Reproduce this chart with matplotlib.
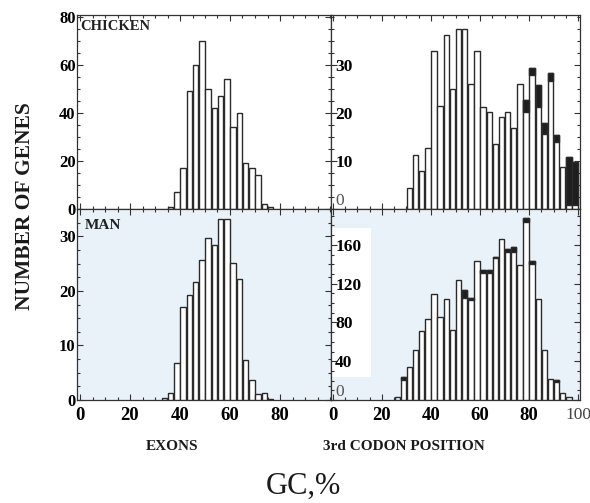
import numpy as np
import matplotlib
matplotlib.use("Agg")
import matplotlib.pyplot as plt
from matplotlib.ticker import MultipleLocator
from matplotlib.patches import Rectangle

plt.rcParams['font.family'] = ['Liberation Serif', 'DejaVu Serif']

BIN = 2.5

# Chicken, exons (bins start at 35, width 2.5)
chicken_exon_start = 35.0
chicken_exon = [1, 7, 17, 49, 60, 70, 50, 42, 47, 54, 34, 40, 19, 17, 14, 2, 1]

# Chicken, 3rd codon position (bins start at 30)
chicken_codon_start = 30.0
chicken_codon = [4.4, 11.2, 7.9, 12.7, 33, 21.5, 36.3, 25, 37.4, 37.4, 26, 33,
                 21.3, 20.3, 13.6, 19.2, 20.3, 16.9, 26, 22.6, 29.4, 25.8, 18,
                 28.3, 15.4, 8.8, 10.9, 9.8]
chicken_codon_dark = [0, 0, 0, 0, 0, 0, 0, 0, 0, 0, 0, 0,
                      0, 0, 0, 0, 0, 0, 0, 2.4, 1.5, 4.6, 2.3,
                      1.6, 1.4, 0, 10.0, 9.0]

# Man, exons (bins start at 32.5)
man_exon_start = 32.5
man_exon = [0.4, 1.3, 6.8, 17, 19.3, 21.7, 25.7, 29.6, 28.4, 33.1, 33.1,
            25.1, 22.2, 7.4, 3.7, 1.1, 1.2, 0.2]

# Man, 3rd codon position (bins start at 25)
man_codon_start = 25.0
man_codon = [2.8, 24, 33.6, 52, 71.6, 84, 109, 85.5, 103.8, 72.7, 123.9, 113,
             105.5, 143.6, 134, 134, 148, 166, 155.7, 157.4, 139, 187.5, 143.6,
             104.6, 52, 21.3, 20.5, 6.9, 2.6]
man_codon_dark = [0, 3.5, 0, 0, 0, 0, 0, 0, 0, 0, 0, 7.6,
                  2.8, 0, 3, 3, 2, 0, 3.5, 5, 0, 3.5, 3.5,
                  0, 0, 0, 2, 0, 0]

exon_xticks = [0, 20, 40, 60, 80]
codon_xticks = [0, 20, 40, 60, 80, 100]

W, H = 590, 503
fig = plt.figure(figsize=(W / 100, H / 100), dpi=100)
fig.patch.set_facecolor('white')

def rect(x0, y0, x1, y1):
    return [x0 / W, 1 - y1 / H, (x1 - x0) / W, (y1 - y0) / H]

ax_ce = fig.add_axes(rect(77, 15, 331, 209))
ax_cc = fig.add_axes(rect(331, 15, 580, 209))
ax_me = fig.add_axes(rect(77, 209, 331, 400))
ax_mc = fig.add_axes(rect(331, 209, 580, 400))

blue = '#e9f1f9'
ax_me.set_facecolor(blue)
ax_mc.set_facecolor(blue)

edge = '#2a2a2a'
bw = BIN * 0.88

def draw(ax, start, vals, dark=None):
    lefts = start + BIN * np.arange(len(vals)) + (BIN - bw) / 2
    vals = np.asarray(vals, float)
    ax.bar(lefts, vals, width=bw, align='edge', facecolor='white',
           edgecolor=edge, linewidth=1.0, zorder=3)
    if dark is not None:
        dark = np.asarray(dark, float)
        m = dark > 0
        ax.bar(lefts[m], dark[m], bottom=vals[m] - dark[m], width=bw,
               align='edge', facecolor='#1e1e1e', edgecolor=edge,
               linewidth=1.0, zorder=4)

draw(ax_ce, chicken_exon_start, chicken_exon)
draw(ax_cc, chicken_codon_start, chicken_codon, chicken_codon_dark)
draw(ax_me, man_exon_start, man_exon)
draw(ax_mc, man_codon_start, man_codon, man_codon_dark)

ax_ce.set_xlim(-1.2, 100.4)
ax_me.set_xlim(-1.2, 100.4)
ax_cc.set_xlim(-0.8, 100.8)
ax_mc.set_xlim(-0.8, 100.8)
ax_ce.set_ylim(0, 80.8)
ax_cc.set_ylim(0, 40.4)
ax_me.set_ylim(0, 35.0)
ax_mc.set_ylim(0, 197)

tick_font = dict(family='Liberation Serif', weight='bold', size=12.5)

for ax in (ax_ce, ax_cc, ax_me, ax_mc):
    for s in ax.spines.values():
        s.set_color('#333333')
        s.set_linewidth(0.9)
    ax.xaxis.set_minor_locator(MultipleLocator(5))
    ax.tick_params(which='both', direction='in', top=True, right=True,
                   color='#333333', width=0.8)
    ax.tick_params(which='major', length=4)
    ax.tick_params(which='minor', length=2.5)

# y ticks
ax_ce.set_yticks([0, 20, 40, 60, 80])
ax_ce.yaxis.set_minor_locator(MultipleLocator(5))
ax_me.set_yticks([0, 10, 20, 30])
ax_me.yaxis.set_minor_locator(MultipleLocator(2.5))
ax_cc.set_yticks([0, 10, 20, 30])
ax_cc.yaxis.set_minor_locator(MultipleLocator(2.5))
ax_mc.set_yticks([0, 40, 80, 120, 160])
ax_mc.yaxis.set_minor_locator(MultipleLocator(10))

for ax in (ax_ce, ax_me):
    ax.tick_params(axis='y', which='major', pad=1)
    for lab in ax.get_yticklabels():
        lab.set(**tick_font)
        lab.set_size(12)

for ax in (ax_cc, ax_mc):
    ax.tick_params(axis='y', which='major', pad=-3)
    for lab in ax.get_yticklabels():
        lab.set(**tick_font)
        lab.set_horizontalalignment('left')
        lab.set_zorder(6)
    # the zero label is printed faintly in the original
    zlab = ax.get_yticklabels()[0]
    zlab.set_weight('normal')
    zlab.set_color('#555555')
    zlab.set_verticalalignment('bottom')

# white box behind the man codon tick labels
ax_mc.add_patch(Rectangle((0.0, 0.12), 0.16, 0.78, transform=ax_mc.transAxes,
                          facecolor='white', edgecolor='none', zorder=1))

# x ticks
ax_ce.set_xticks(exon_xticks)
ax_me.set_xticks(exon_xticks)
ax_cc.set_xticks(codon_xticks)
ax_mc.set_xticks(codon_xticks)
ax_ce.tick_params(axis='x', labelbottom=False)
ax_cc.tick_params(axis='x', labelbottom=False)
for ax in (ax_me, ax_mc):
    ax.tick_params(axis='x', which='major', pad=5)
    for lab in ax.get_xticklabels():
        lab.set(**tick_font)
        lab.set_size(13.5)
last = ax_mc.get_xticklabels()[-1]
last.set_weight('normal')
last.set_size(12.5)
last.set_color('#444444')

# panel labels
ax_ce.text(0.012, 0.975, 'CHICKEN', transform=ax_ce.transAxes, ha='left',
           va='top', fontsize=10.5, family='Liberation Serif', weight='bold',
           color='#222222')
ax_me.text(0.03, 0.95, 'MAN', transform=ax_me.transAxes, ha='left',
           va='top', fontsize=11, family='Liberation Serif', weight='bold',
           color='#222222')

# axis titles
fig.text(25 / W, 1 - 206 / H, 'NUMBER OF GENES', rotation=90, ha='center',
         va='center', fontsize=15.5, family='Liberation Serif', weight='bold',
         color='#1a1a1a')
fig.text(172 / W, 1 - 446 / H, 'EXONS', ha='center', va='center',
         fontsize=11, family='Liberation Serif', weight='bold', color='#1a1a1a')
fig.text(404 / W, 1 - 446 / H, '3rd CODON POSITION', ha='center',
         va='center', fontsize=11, family='Liberation Serif', weight='bold',
         color='#1a1a1a')
fig.text(303 / W, 1 - 486 / H, 'GC,%', ha='center', va='center',
         fontsize=22, family='Liberation Serif', color='#1a1a1a')

fig.savefig('out.png', dpi=100, facecolor='white')
